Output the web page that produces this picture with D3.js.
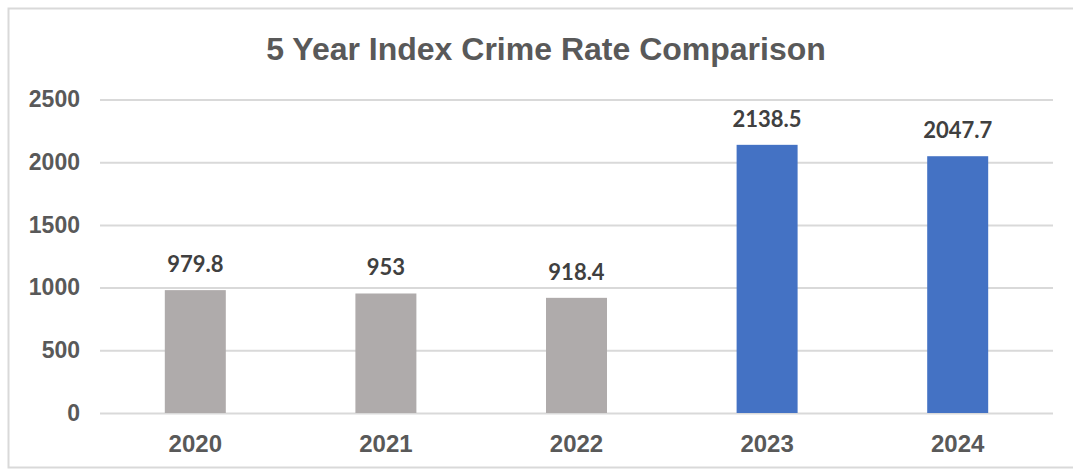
<!DOCTYPE html>
<html><head><meta charset="utf-8">
<script src="https://cdn.jsdelivr.net/npm/d3@7"></script>
<style>body{margin:0;background:#fff}svg{display:block}</style>
</head><body>
<script>
const years = ["2020","2021","2022","2023","2024"];
const rates = [979.8, 953, 918.4, 2138.5, 2047.7];
const rateLabels = ["979.8","953","918.4","2138.5","2047.7"];
const barColors = ["#AFABAB","#AFABAB","#AFABAB","#4472C4","#4472C4"];
const yTicks = [0,500,1000,1500,2000,2500];
const title = "5 Year Index Crime Rate Comparison";

const W=1073,H=470;
const svg=d3.select("body").append("svg").attr("width",W).attr("height",H);
svg.append("rect").attr("x",8.5).attr("y",8.5).attr("width",1080).attr("height",459)
  .attr("fill","#fff").attr("stroke","#d9d9d9").attr("stroke-width",2);
const m={l:100,r:1053,t:99.5,b:413};
const x=d3.scaleBand().domain(years).range([m.l,m.r]).paddingInner(0.68).paddingOuter(0.34);
const y=d3.scaleLinear().domain([0,2500]).range([m.b,m.t]);
const font="'Liberation Sans', Arial, sans-serif";
svg.append("text").attr("x",546).attr("y",60).attr("text-anchor","middle")
  .attr("font-family",font).attr("font-weight","bold").attr("font-size",32).attr("fill","#595959").text(title);
const ya=svg.append("g").attr("transform",`translate(${m.l},0)`)
  .call(d3.axisLeft(y).tickValues(yTicks).tickSize(-(m.r-m.l)).tickPadding(20).tickFormat(d3.format("d")));
ya.select(".domain").remove();
ya.selectAll("line").attr("stroke","#d9d9d9").attr("stroke-width",2);
ya.selectAll("text").attr("font-family",font).attr("font-weight","bold").attr("font-size",23).attr("fill","#595959");
const xa=svg.append("g").attr("transform",`translate(0,${m.b})`).call(d3.axisBottom(x).tickSize(0).tickPadding(0));
xa.select(".domain").remove();
xa.selectAll("text").attr("dy",null).attr("y",39).attr("font-family",font).attr("font-weight","bold").attr("font-size",24).attr("fill","#595959");
svg.selectAll(".bar").data(years).enter().append("rect")
  .attr("x",d=>x(d)).attr("width",x.bandwidth())
  .attr("y",(d,i)=>y(rates[i])).attr("height",(d,i)=>y(0)-y(rates[i]))
  .attr("fill",(d,i)=>barColors[i]);
svg.selectAll(".lbl").data(years).enter().append("text")
  .attr("x",d=>x(d)+x.bandwidth()/2).attr("y",(d,i)=>y(rates[i])-18)
  .attr("text-anchor","middle").attr("font-family","Lato, 'Open Sans', sans-serif").attr("font-weight","bold")
  .attr("font-size",22).attr("fill","#404040").text((d,i)=>rateLabels[i]);
</script>
</body></html>
